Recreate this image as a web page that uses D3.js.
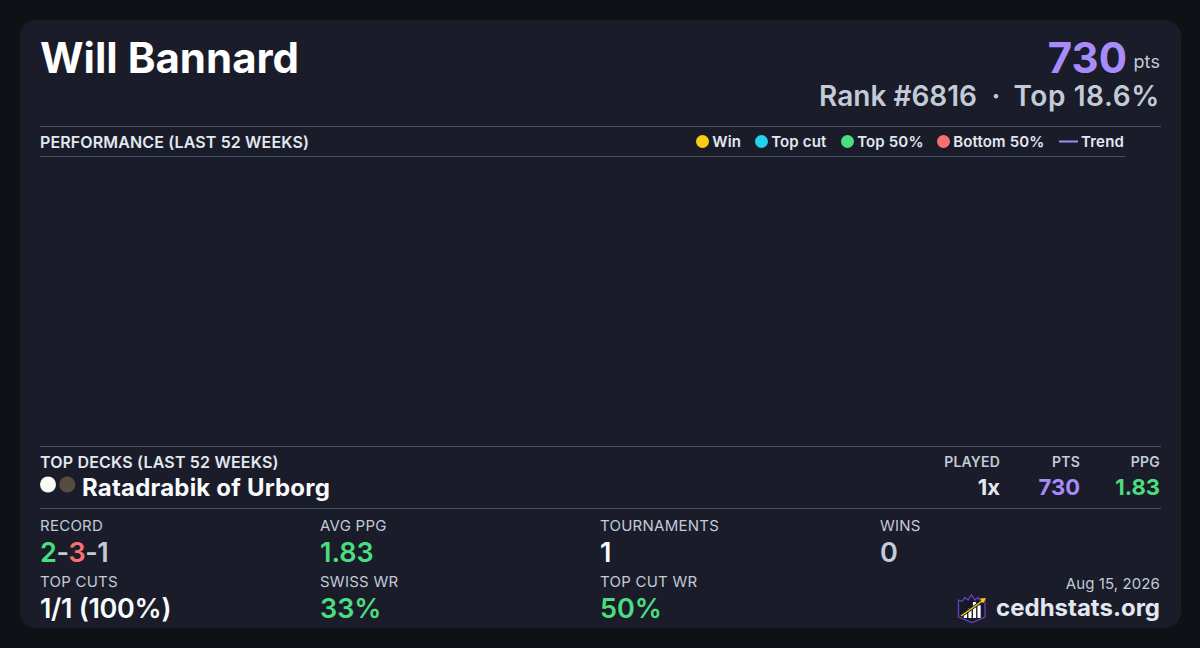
<!DOCTYPE html>
<html>
<head>
<meta charset="utf-8">
<script src="https://cdn.jsdelivr.net/npm/d3@7"></script>
<style>
  html, body { margin: 0; padding: 0; background: #0f1117; }
  svg { display: block; font-family: Inter, sans-serif; }
</style>
</head>
<body>
<div id="chart"></div>
<script>
const playerName = 'Will Bannard';
const points = '730';
const rankText = 'Rank #6816';
const topText = 'Top 18.6%';

// nothing was played on the chart area in the reference, so no marks
const performance = [];
const trend = [];

const legendLabels = ['Win', 'Top cut', 'Top 50%', 'Bottom 50%'];
const legendColors = ['#facc15', '#22d3ee', '#4ade80', '#f87171'];

const deckName = 'Ratadrabik of Urborg';
const deckDots = ['#f9faf4', '#574c3f'];
const deckHeads = ['PLAYED', 'PTS', 'PPG'];
const deckValues = ['1x', '730', '1.83'];
const deckColors = ['#e2e8f0', '#a78bfa', '#4ade80'];

const muted = '#c3cad8';
const statLabels = ['RECORD', 'AVG PPG', 'TOURNAMENTS', 'WINS', 'TOP CUTS', 'SWISS WR', 'TOP CUT WR'];
const statValues = [null, '1.83', '1', '0', '1/1 (100%)', '33%', '50%'];
const statColors = [null, '#4ade80', '#f8fafc', muted, '#f8fafc', '#4ade80', '#4ade80'];
const recordParts = [['2', '#4ade80'], ['-', muted], ['3', '#f87171'], ['-', muted], ['1', muted]];

const dateText = 'Aug 15, 2026';
const siteText = 'cedhstats.org';
const logoBars = [3, 6, 10, 8];

const svg = d3.select('#chart').append('svg')
  .attr('width', 1200)
  .attr('height', 648);

svg.append('rect').attr('width', 1200).attr('height', 648).attr('fill', '#0f1117');
svg.append('rect')
  .attr('x', 20).attr('y', 20)
  .attr('width', 1161).attr('height', 608)
  .attr('rx', 16)
  .attr('fill', '#1a1d29');

function label(x, y, str, size, weight, color, anchor, spacing) {
  return svg.append('text')
    .attr('x', x).attr('y', y)
    .attr('font-size', size)
    .attr('font-weight', weight)
    .attr('fill', color)
    .attr('text-anchor', anchor || 'start')
    .attr('letter-spacing', spacing || 0)
    .text(str);
}

function rule(x1, x2, y) {
  svg.append('line')
    .attr('x1', x1).attr('x2', x2)
    .attr('y1', y + 0.5).attr('y2', y + 0.5)
    .attr('stroke', '#475569');
}

// Header
label(40, 73, playerName, 42, 700, '#ffffff');
label(1127, 73, points, 42, 700, '#a78bfa', 'end');
label(1160, 68, 'pts', 18, 400, muted, 'end', 0.1);
label(977, 106, rankText, 28, 600, muted, 'end');
label(996, 106, '·', 28, 600, muted, 'middle');
label(1160, 106, topText, 28, 600, muted, 'end', 0.6);

// Performance section
rule(40, 1161, 126);
rule(40, 1125, 156);
label(40, 148, 'PERFORMANCE (LAST 52 WEEKS)', 16, 600, '#e2e8f0', 'start', 0.13);

const legendX = [702.5, 761.5, 847.5, 943.5];
legendLabels.forEach((d, i) => {
  svg.append('circle')
    .attr('cx', legendX[i]).attr('cy', 141.5).attr('r', 6.5)
    .attr('fill', legendColors[i]);
  label(legendX[i] + 9.7, 147, d, 15, 600, '#e2e8f0', 'start', 0.15);
});
svg.append('line')
  .attr('x1', 1059).attr('x2', 1078)
  .attr('y1', 141.5).attr('y2', 141.5)
  .attr('stroke', '#a78bfa').attr('stroke-width', 2);
label(1081, 147, 'Trend', 15, 600, '#e2e8f0', 'start', 0.2);

// Empty plot, scales kept for the week/points range
const x = d3.scaleLinear().domain([0, 52]).range([40, 1125]);
const y = d3.scaleLinear().domain([0, 1000]).range([440, 160]);
svg.append('g').selectAll('circle')
  .data(performance)
  .join('circle')
  .attr('cx', d => x(d.week))
  .attr('cy', d => y(d.value))
  .attr('r', 5);
svg.append('path')
  .datum(trend)
  .attr('fill', 'none')
  .attr('stroke', '#a78bfa')
  .attr('d', d3.line().x(d => x(d.week)).y(d => y(d.value)));

// Top decks
rule(40, 1161, 446);
rule(40, 1161, 508);
label(40, 468, 'TOP DECKS (LAST 52 WEEKS)', 16, 600, '#e2e8f0', 'start', 0.18);
deckDots.forEach((c, i) => {
  svg.append('circle')
    .attr('cx', 48 + i * 19.3).attr('cy', 484.5).attr('r', 8)
    .attr('fill', c);
});
label(82, 496, deckName, 24, 700, '#f8fafc', 'start', 0.2);

const deckRight = [1000, 1080, 1160];
deckHeads.forEach((d, i) => {
  label(deckRight[i], 467, d, 14, 600, muted, 'end', 0.2);
  label(deckRight[i], 495, deckValues[i], 22, 700, deckColors[i], 'end');
});

// Stat grid
const statX = d3.scaleLinear().domain([0, 1]).range([40, 320]);
statLabels.forEach((d, i) => {
  const col = i % 4;
  const row = Math.floor(i / 4);
  label(statX(col), 531 + row * 56, d, 15, 400, muted, 'start', 0.25);
  if (statValues[i] !== null) {
    label(statX(col), 562 + row * 56, statValues[i], 27, 600, statColors[i], 'start', i === 4 ? -0.3 : 0);
  }
});
const record = label(40, 562, '', 27, 600, muted, 'start', -0.4);
record.selectAll('tspan')
  .data(recordParts)
  .join('tspan')
  .attr('fill', d => d[1])
  .text(d => d[0]);

// Footer
label(1160, 589, dateText, 15, 400, muted, 'end', 0.1);
label(1160, 616, siteText, 24, 700, '#e2e8f0', 'end');

// Logo
const logo = svg.append('g').attr('transform', 'translate(958,594)');
logo.append('path')
  .attr('d', 'M0.5,6 L4,7.5 L7,3.5 L10,6 L13.5,0.8 L17,6 L20,3.5 L23,7.5 L27,6 L27,23 L14,28.5 L0.5,23 Z')
  .attr('fill', '#161823')
  .attr('stroke', '#6d3fc4')
  .attr('stroke-width', 1.3);
const barX = d3.scaleBand().domain(d3.range(logoBars.length)).range([4.5, 24]).padding(0.3);
const barY = d3.scaleLinear().domain([0, 10]).range([24, 8]);
logo.selectAll('rect')
  .data(logoBars)
  .join('rect')
  .attr('x', (d, i) => barX(i))
  .attr('width', barX.bandwidth())
  .attr('y', d => barY(d))
  .attr('height', d => barY(0) - barY(d))
  .attr('fill', '#ffffff');
logo.append('line')
  .attr('x1', 3).attr('y1', 22).attr('x2', 25).attr('y2', 6.5)
  .attr('stroke', '#1a1d29').attr('stroke-width', 3);
logo.append('line')
  .attr('x1', 3).attr('y1', 22).attr('x2', 25).attr('y2', 6.5)
  .attr('stroke', '#facc15').attr('stroke-width', 1.3);
logo.append('path')
  .attr('d', 'M28,4 L22,4.5 L25,9.5 Z')
  .attr('fill', '#facc15');
</script>
</body>
</html>
